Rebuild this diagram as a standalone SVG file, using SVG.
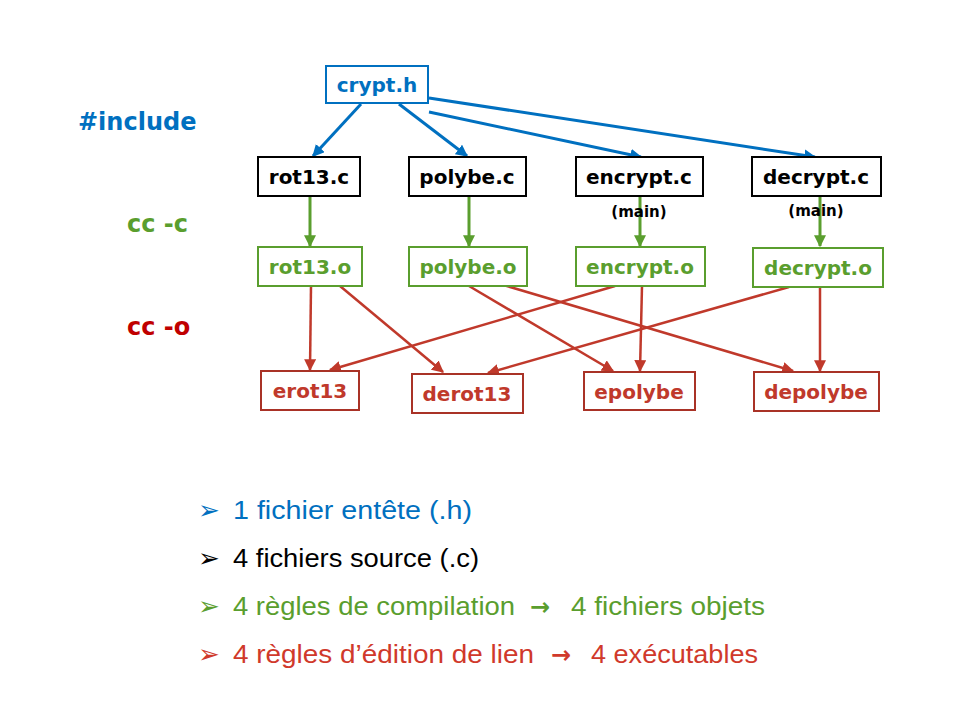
<svg xmlns="http://www.w3.org/2000/svg" width="960" height="720" viewBox="0 0 960 720">
<style>
.nb{fill:#fff;stroke-width:2}
.lbl{font-family:"DejaVu Sans",sans-serif;font-weight:bold;font-size:20px;text-anchor:middle}
.blue{fill:#0070C0}.green{fill:#5A9E2E}.red{fill:#C0392B}.black{fill:#000}
.sb{stroke:#0070C0}.sg{stroke:#5A9E2E}.sr{stroke:#A93226}.sk{stroke:#000}
.side{font-family:"DejaVu Sans",sans-serif;font-weight:bold;font-size:24px}
.main{font-family:"DejaVu Sans",sans-serif;font-weight:bold;font-size:15px;text-anchor:middle}
.bl{font-family:"Liberation Sans",sans-serif;font-size:26px}
.ar{font-family:"DejaVu Sans",sans-serif;font-size:24px;font-weight:bold}
.cb{stroke:#0070C0;stroke-width:3;fill:none}
.cg{stroke:#5A9E2E;stroke-width:3;fill:none}
.cr{stroke:#C0392B;stroke-width:2.5;fill:none}
</style>
<defs>
<marker id="ab" viewBox="0 0 10 10" refX="9" refY="5" markerWidth="12" markerHeight="12" markerUnits="userSpaceOnUse" orient="auto"><path d="M0,0 L10,5 L0,10 z" fill="#0070C0"/></marker>
<marker id="ag" viewBox="0 0 10 10" refX="9" refY="5" markerWidth="12" markerHeight="12" markerUnits="userSpaceOnUse" orient="auto"><path d="M0,0 L10,5 L0,10 z" fill="#5A9E2E"/></marker>
<marker id="ar" viewBox="0 0 10 10" refX="9" refY="5" markerWidth="12" markerHeight="12" markerUnits="userSpaceOnUse" orient="auto"><path d="M0,0 L10,5 L0,10 z" fill="#C0392B"/></marker>
</defs>
<rect width="960" height="720" fill="#fff"/>

<text class="side blue" x="78" y="130">#include</text>
<text class="side green" x="127" y="232">cc -c</text>
<text class="side" x="127" y="335" fill="#C00000">cc -o</text>

<g id="connectors">
<line class="cb" x1="361" y1="104" x2="313" y2="156" marker-end="url(#ab)"/>
<line class="cb" x1="399" y1="104" x2="467" y2="156" marker-end="url(#ab)"/>
<line class="cb" x1="429" y1="112" x2="641" y2="157" marker-end="url(#ab)"/>
<line class="cb" x1="429" y1="98" x2="815" y2="157" marker-end="url(#ab)"/>
<line class="cg" x1="310" y1="197" x2="310" y2="246" marker-end="url(#ag)"/>
<line class="cg" x1="469" y1="197" x2="469" y2="246" marker-end="url(#ag)"/>
<line class="cg" x1="640" y1="197" x2="640" y2="246" marker-end="url(#ag)"/>
<line class="cg" x1="820" y1="197" x2="820" y2="246" marker-end="url(#ag)"/>
<line class="cr" x1="311" y1="286" x2="310" y2="370" marker-end="url(#ar)"/>
<line class="cr" x1="340" y1="286" x2="443" y2="372" marker-end="url(#ar)"/>
<line class="cr" x1="469" y1="286" x2="613" y2="371" marker-end="url(#ar)"/>
<line class="cr" x1="500" y1="284" x2="793" y2="371" marker-end="url(#ar)"/>
<line class="cr" x1="615" y1="286" x2="330" y2="370" marker-end="url(#ar)"/>
<line class="cr" x1="642" y1="286" x2="640" y2="371" marker-end="url(#ar)"/>
<line class="cr" x1="789" y1="287" x2="488" y2="373" marker-end="url(#ar)"/>
<line class="cr" x1="820" y1="287" x2="820" y2="371" marker-end="url(#ar)"/>
</g>

<g id="crypt_h"><rect class="nb sb" x="326" y="66" width="102" height="37"/><text class="lbl blue" x="377" y="92">crypt.h</text></g>

<g id="rot13_c"><rect class="nb sk" x="258" y="157" width="102" height="39"/><text class="lbl black" x="309" y="184">rot13.c</text></g>
<g id="polybe_c"><rect class="nb sk" x="409" y="157" width="117" height="39"/><text class="lbl black" x="467" y="184">polybe.c</text></g>
<g id="encrypt_c"><rect class="nb sk" x="576" y="157" width="127" height="39"/><text class="lbl black" x="639" y="184">encrypt.c</text><text class="main black" x="639" y="217">(main)</text></g>
<g id="decrypt_c"><rect class="nb sk" x="752" y="157" width="129" height="39"/><text class="lbl black" x="816" y="184">decrypt.c</text><text class="main black" x="816" y="216">(main)</text></g>

<g id="rot13_o"><rect class="nb sg" x="258" y="247" width="104" height="39"/><text class="lbl green" x="310" y="274">rot13.o</text></g>
<g id="polybe_o"><rect class="nb sg" x="409" y="247" width="118" height="39"/><text class="lbl green" x="468" y="274">polybe.o</text></g>
<g id="encrypt_o"><rect class="nb sg" x="576" y="247" width="129" height="39"/><text class="lbl green" x="640" y="274">encrypt.o</text></g>
<g id="decrypt_o"><rect class="nb sg" x="753" y="248" width="130" height="39"/><text class="lbl green" x="818" y="275">decrypt.o</text></g>

<g id="erot13"><rect class="nb sr" x="261" y="371" width="98" height="39"/><text class="lbl red" x="310" y="398">erot13</text></g>
<g id="derot13"><rect class="nb sr" x="412" y="374" width="111" height="39"/><text class="lbl red" x="467" y="401">derot13</text></g>
<g id="epolybe"><rect class="nb sr" x="584" y="372" width="111" height="38"/><text class="lbl red" x="639" y="399">epolybe</text></g>
<g id="depolybe"><rect class="nb sr" x="754" y="372" width="125" height="39"/><text class="lbl red" x="816" y="399">depolybe</text></g>

<g id="legend">
<text class="bl" x="198" y="519" fill="#0070C0" font-size="20">➢</text>
<text class="bl blue" x="233" y="519" textLength="239" lengthAdjust="spacingAndGlyphs">1 fichier entête (.h)</text>
<text class="bl" x="198" y="567" fill="#000" font-size="20">➢</text>
<text class="bl black" x="233" y="567" textLength="246" lengthAdjust="spacingAndGlyphs">4 fichiers source (.c)</text>
<text class="bl" x="198" y="615" fill="#5A9E2E" font-size="20">➢</text>
<text class="bl green" x="233" y="615" textLength="282" lengthAdjust="spacingAndGlyphs">4 règles de compilation</text>
<text class="ar green" x="530" y="615">→</text>
<text class="bl green" x="571" y="615" textLength="194" lengthAdjust="spacingAndGlyphs">4 fichiers objets</text>
<text class="bl" x="198" y="663" fill="#D0392B" font-size="20">➢</text>
<text class="bl" x="233" y="663" fill="#D0392B" textLength="301" lengthAdjust="spacingAndGlyphs">4 règles d’édition de lien</text>
<text class="ar" x="551" y="663" fill="#D0392B">→</text>
<text class="bl" x="591" y="663" fill="#D0392B" textLength="167" lengthAdjust="spacingAndGlyphs">4 exécutables</text>
</g>
</svg>
